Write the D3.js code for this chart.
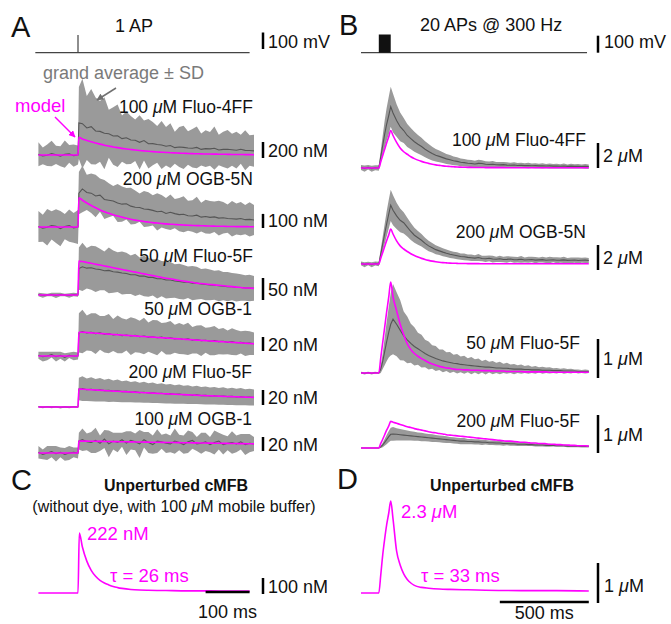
<!DOCTYPE html>
<html>
<head>
<meta charset="utf-8">
<script src="https://cdn.jsdelivr.net/npm/d3@7"></script>
<style>
body { margin: 0; background: #fff; }
text { font-family: "Liberation Sans", Arial, Helvetica, sans-serif; }
</style>
</head>
<body>
<div id="fig"></div>
<script>
var w = 671
var h = 624

var magenta = "#ff00ff"
var bandGray = "#9a9a9a"
var meanGray = "#555555"

// sample times (ms). A: 1 AP, B: 20 APs @ 300 Hz
var tA = d3.range(-90, 1, 10).concat([2], d3.range(10, 401, 10))
var tB = [-100, -80, -60, -40, -20, 0, 11, 22, 33, 44, 56, 67].concat(d3.range(80, 1181, 20))

// ---- panel A data (nM): grand average, SD, model ----
var a1Mean = [8,-12,-4,18,2,-16,10,14,-8,0, 400,
  392,338,355,300,295,272,265,238,240,205, 215,188,185,158,180,140,142,132,125,110,
  118,92,100,95,88,85,95,70,80,77, 85,62,70,71,65,60,72,58,56,52]
var a1Sd = [150,105,135,160,115,125,170,110,140,120, 450,
  560,400,470,420,380,450,300,360,390,290, 330,300,260,340,250,310,270,230,300,240,
  280,200,250,270,210,240,260,200,230,210, 270,190,220,240,200,230,180,250,190,200]
var a1Model = [0,0,0,0,0,0,0,0,0,0, 220,
  200,182,165,150,136,123,112,101,92,83, 76,69,62,56,51,46,42,38,35,32,
  29,26,24,21,19,17,16,14,13,12, 11,10,9,8,7,6,6,5,5,4]

var a2Mean = [4,-9,-2,11,6,-12,3,10,-6,0, 240,
  270,245,240,220,226,195,190,185,170,162, 165,148,140,138,128,125,118,108,112,96,
  104,95,88,90,80,78,84,70,74,68, 72,63,66,60,58,56,60,52,54,50]
var a2Sd = [110,95,130,100,120,125,90,115,105,120, 150,
  165,125,140,150,118,138,120,105,135,125, 112,130,118,100,128,122,108,132,115,110,
  126,104,118,128,106,112,130,102,120,116, 108,124,112,100,126,110,118,104,122,106]
var a2Model = [0,0,0,0,0,0,0,0,0,0, 207,
  190,170,152,136,121,108,97,87,78,70, 62,55,49,44,39,35,31,28,25,22,
  20,18,16,14,12,11,10,9,8,7, 6,5,5,4,4,3,3,3,2,2]

var a3Mean = [1,-1,0,1,-1,1,0,-1,1,0, 60,
  64,61,62,59,58,55,56,53,52,50, 49,46,46,43,43,40,40,37,37,34,
  34,32,31,29,29,27,27,25,24,23, 22,21,20,19,19,17,17,16,16,15]
var a3Sd = [4,5,3,4,6,4,3,5,4,4, 48,
  55,46,50,52,47,44,52,48,45,49, 47,44,48,42,46,44,41,45,40,42,
  41,38,40,39,36,39,37,34,36,35, 33,35,32,33,31,32,30,29,30,28]
var a3Model = [0,0,0,0,0,0,0,0,0,0, 77,
  76,74,72,70,68,66,64,62,60,58, 56,54,52,50,48,46,44,42,40,38,
  37,35,33,32,30,29,27,26,25,24, 23,22,21,20,19,18,17,16,16,15]

var a4Mean = [1,-1,0,2,-1,1,-2,1,0,0, 33,
  35,33,34,32,33,31,32,30,31,29, 30,28.5,29.5,27.5,28.5,27,27.5,26,27,25,
  26,24.5,25,23.5,24.5,22.5,23.5,22,22.5,21, 22,20.5,21,19.5,20.5,19,19.5,18,18.5,17.5]
var a4Sd = [5,7,6,4,7,5,6,4,6,5, 28,
  31,25,27,29,24,26,28,23,27,25, 22,27,24,23,26,21,24,25,20,23,
  24,20,22,21,23,19,20,22,18,20, 21,18,19,17,19,18,16,18,17,16]
var a4Model = [0,0,0,0,0,0,0,0,0,0, 34,
  34,33.5,33,32.6,32.2,31.7,31.3,30.8,30.4,30, 29.5,29.1,28.7,28.2,27.8,27.4,27,26.5,26.1,25.7,
  25.3,24.8,24.4,24,23.6,23.2,22.7,22.3,21.9,21.5, 21.1,20.7,20.3,19.9,19.5,19.1,18.7,18.3,17.9,17.5]

var a5Mean = [0.3,-0.3,0.4,-0.2,0.3,-0.4,0.2,-0.3,0.3,0, 24,
  24.5,23,23.6,22.4,23,21.8,22.2,21.2,21.6,20.5, 20.8,19.8,20.2,19.2,19.6,18.6,19,18,18.4,17.4,
  17.8,16.8,17.2,16.3,16.6,15.7,16.1,15.2,15.5,14.7, 15,14.3,14.6,13.8,14.2,13.4,13.8,13,13.3,12.7]
var a5Sd = [1,1.5,1,1.5,1,1.5,1,1.5,1,1, 15,
  16.5,15,16,15,15.8,14.6,15.4,14.3,15,14, 14.6,13.6,14.2,13.3,14,13,13.7,12.8,13.4,12.6,
  13,12.3,12.8,12,12.5,11.8,12.2,11.6,12,11.4, 11.8,11.2,11.6,11,11.5,10.9,11.4,10.8,11.2,10.7]
var a5Model = [0,0,0,0,0,0,0,0,0,0, 24,
  23.7,23.3,23,22.6,22.3,21.9,21.6,21.2,20.9,20.6, 20.3,20,19.7,19.4,19.1,18.8,18.5,18.2,17.9,17.6,
  17.3,17,16.7,16.5,16.2,15.9,15.7,15.4,15.2,14.9, 14.7,14.5,14.2,14,13.8,13.6,13.4,13.2,13,12.8]

var a6Mean = [1,-2,0,2,-1,1,-2,0,1,0, 17,
  19,16,15,18,14,20,13,17,15,19, 14,18,16,13,19,15,12,17,16,14,
  13,17,15,12,16,18,13,14,16,12, 15,17,12,14,15,13,16,12,14,13]
var a6Sd = [9,7,10,8,11,7,9,10,7,8, 12,
  16,12,15,18,11,13,19,12,14,10, 17,13,12,20,11,15,13,17,10,14,
  12,18,11,13,16,12,10,15,13,11, 17,12,14,10,16,12,11,15,13,10]
var a6Model = [0,0,0,0,0,0,0,0,0,0, 17,
  17,16.9,16.8,16.7,16.6,16.5,16.4,16.3,16.2,16.1, 16,15.9,15.8,15.7,15.6,15.5,15.4,15.3,15.2,15.1,
  15,14.9,14.8,14.7,14.6,14.5,14.4,14.3,14.2,14.1, 14,13.9,13.8,13.7,13.6,13.5,13.4,13.3,13.2,13.1]

// ---- panel B data (uM) ----
var b1Mean = [0.05,-0.04,0.06,-0.05,0.03,0, 0.9,1.8,2.7,3.5,4.2,4.9,
  4.4,3.8,3.3,3.0,2.6,2.35,2.1,1.9,1.72,1.5, 1.32,1.16,1.02,0.93,0.83,0.73,0.66,0.58,0.53,0.46,
  0.43,0.38,0.36,0.32,0.37,0.36,0.3,0.28,0.3,0.26, 0.25,0.27,0.23,0.22,0.24,0.2,0.21,0.19,0.2,0.18,
  0.19,0.17,0.18,0.16,0.17,0.15,0.16,0.14,0.16,0.13, 0.15,0.13,0.14,0.12,0.13,0.12]
var b1Sd = [0.2,0.25,0.18,0.24,0.2,0.22, 0.5,0.8,1.1,1.3,1.5,1.6,
  1.55,1.3,1.15,1.0,0.92,0.85,0.8,0.74,0.7,0.64, 0.6,0.55,0.5,0.47,0.43,0.4,0.38,0.35,0.33,0.31,
  0.3,0.28,0.29,0.26,0.3,0.27,0.25,0.24,0.26,0.22, 0.24,0.21,0.23,0.2,0.22,0.2,0.21,0.19,0.22,0.18,
  0.2,0.18,0.21,0.17,0.2,0.18,0.19,0.17,0.2,0.16, 0.19,0.17,0.18,0.16,0.19,0.17]
var b1Model = [0,0,0,0,0,0, 0.5,1.0,1.5,2.0,2.5,3.0,
  2.6,2.05,1.6,1.3,1.1,0.9,0.75,0.63,0.53,0.44, 0.37,0.3,0.25,0.21,0.17,0.14,0.12,0.1,0.08,0.07,
  0.06,0.05,0.05,0.04,0.04,0.04,0.03,0.03,0.03,0.03, 0.03,0.03,0.02,0.02,0.02,0.02,0.02,0.02,0.02,0.02,
  0.02,0.02,0.02,0.02,0.02,0.02,0.02,0.02,0.02,0.02, 0.02,0.02,0.02,0.02,0.02,0.02]

var b2Mean = [0.06,-0.05,0.04,-0.06,0.05,0, 0.8,1.6,2.4,3.2,4.0,4.7,
  4.3,3.85,3.5,3.3,2.95,2.6,2.3,2.1,1.9,1.65, 1.45,1.3,1.15,1.05,0.95,0.86,0.78,0.72,0.66,0.6,
  0.58,0.53,0.5,0.47,0.52,0.44,0.42,0.46,0.4,0.38, 0.42,0.36,0.37,0.4,0.34,0.35,0.38,0.32,0.34,0.36,
  0.31,0.33,0.35,0.3,0.32,0.34,0.3,0.31,0.33,0.29, 0.3,0.32,0.28,0.3,0.31,0.28]
var b2Sd = [0.15,0.2,0.14,0.2,0.16,0.18, 0.4,0.6,0.8,1.0,1.15,1.25,
  1.2,1.05,0.95,0.85,0.75,0.68,0.6,0.55,0.5,0.45, 0.42,0.38,0.36,0.33,0.32,0.3,0.29,0.27,0.28,0.25,
  0.27,0.24,0.26,0.23,0.28,0.22,0.25,0.23,0.27,0.21, 0.25,0.22,0.26,0.21,0.24,0.22,0.27,0.2,0.24,0.22,
  0.25,0.2,0.23,0.22,0.26,0.2,0.24,0.21,0.25,0.2, 0.23,0.21,0.24,0.2,0.22,0.2]
var b2Model = [0,0,0,0,0,0, 0.47,0.93,1.4,1.87,2.33,2.8,
  2.4,1.85,1.45,1.2,1.0,0.82,0.68,0.56,0.45,0.36, 0.29,0.23,0.18,0.14,0.11,0.09,0.07,0.06,0.05,0.04,
  0.04,0.03,0.03,0.03,0.03,0.02,0.02,0.02,0.02,0.02, 0.02,0.02,0.02,0.02,0.02,0.02,0.02,0.02,0.02,0.02,
  0.02,0.02,0.02,0.02,0.02,0.02,0.02,0.02,0.02,0.02, 0.02,0.02,0.02,0.02,0.02,0.02]

var b3Mean = [0.01,-0.01,0.01,-0.01,0.01,0, 0.1,0.3,0.55,0.8,1.05,1.25,
  1.38,1.25,1.1,0.95,0.85,0.76,0.68,0.62,0.56,0.5, 0.45,0.41,0.37,0.34,0.31,0.29,0.27,0.25,0.24,0.22,
  0.21,0.2,0.19,0.18,0.17,0.16,0.15,0.15,0.14,0.13, 0.13,0.12,0.12,0.11,0.1,0.1,0.1,0.09,0.09,0.08,
  0.08,0.08,0.07,0.07,0.07,0.06,0.06,0.06,0.05,0.05, 0.05,0.05,0.04,0.04,0.04,0.04]
var b3Sd = [0.02,0.03,0.02,0.03,0.02,0.02, 0.1,0.2,0.35,0.5,0.65,0.8,
  0.9,0.82,0.77,0.63,0.6,0.5,0.49,0.41,0.42,0.35, 0.36,0.3,0.32,0.26,0.29,0.24,0.27,0.22,0.25,0.2,
  0.23,0.18,0.22,0.17,0.2,0.15,0.19,0.14,0.17,0.13, 0.16,0.12,0.14,0.11,0.13,0.1,0.12,0.09,0.11,0.08,
  0.1,0.07,0.09,0.07,0.08,0.06,0.07,0.05,0.07,0.05, 0.06,0.04,0.05,0.04,0.05,0.04]
var b3Model = [0,0,0,0,0,0, 0.39,0.78,1.17,1.56,1.95,2.33,
  1.95,1.6,1.25,0.98,0.75,0.6,0.5,0.43,0.37,0.32, 0.27,0.23,0.2,0.17,0.15,0.13,0.12,0.1,0.09,0.09,
  0.08,0.08,0.07,0.07,0.07,0.06,0.06,0.06,0.05,0.05, 0.05,0.05,0.04,0.04,0.04,0.04,0.04,0.03,0.03,0.03,
  0.03,0.03,0.03,0.03,0.02,0.02,0.02,0.02,0.02,0.02, 0.02,0.02,0.02,0.02,0.02,0.02]

var b4Mean = [0,0,0,0,0,0, 0.03,0.08,0.15,0.22,0.3,0.36,
  0.37,0.36,0.35,0.34,0.33,0.32,0.31,0.3,0.29,0.28, 0.27,0.26,0.25,0.24,0.23,0.22,0.21,0.2,0.19,0.18,
  0.18,0.17,0.17,0.16,0.16,0.15,0.15,0.14,0.14,0.13, 0.13,0.12,0.12,0.11,0.11,0.1,0.1,0.1,0.09,0.09,
  0.08,0.08,0.08,0.07,0.07,0.07,0.06,0.06,0.06,0.05, 0.05,0.05,0.05,0.04,0.04,0.04]
var b4Sd = [0.01,0.015,0.01,0.015,0.01,0.01, 0.03,0.06,0.09,0.12,0.15,0.17,
  0.18,0.16,0.15,0.14,0.13,0.12,0.12,0.11,0.11,0.1, 0.1,0.1,0.09,0.09,0.09,0.09,0.08,0.08,0.08,0.08,
  0.08,0.07,0.07,0.07,0.07,0.07,0.06,0.06,0.06,0.06, 0.06,0.06,0.05,0.05,0.05,0.05,0.05,0.05,0.04,0.04,
  0.04,0.04,0.04,0.04,0.04,0.03,0.03,0.03,0.03,0.03, 0.03,0.03,0.03,0.03,0.03,0.03]
var b4Model = [0,0,0,0,0,0, 0.12,0.23,0.35,0.47,0.58,0.7,
  0.68,0.65,0.62,0.59,0.56,0.54,0.51,0.49,0.47,0.45, 0.43,0.41,0.4,0.38,0.37,0.35,0.34,0.33,0.32,0.31,
  0.3,0.29,0.28,0.27,0.26,0.25,0.24,0.23,0.22,0.21, 0.2,0.19,0.18,0.18,0.17,0.16,0.15,0.15,0.14,0.13,
  0.13,0.12,0.12,0.11,0.1,0.1,0.09,0.09,0.08,0.08, 0.07,0.07,0.06,0.06,0.06,0.05]

// ---- panels C / D: unperturbed model ----
var cTime = [-90, 0, 3, 10, 20, 30, 40, 50, 60, 70, 80, 90, 100, 120, 140, 160, 200, 250, 300, 350, 390]
var cModel = [0, 0, 222, 170, 118, 84, 62, 47, 37, 30, 24, 20, 17, 13, 11, 10, 9, 8, 8, 7, 7]
var dTime = [-100, 0, 11, 22, 33, 44, 56, 67, 80, 100, 120, 140, 160, 180, 200, 240, 280, 340, 400, 500, 600, 800, 1000, 1180]
var dModel = [0, 0, 0.45, 0.95, 1.35, 1.7, 2.0, 2.3, 1.85, 1.05, 0.7, 0.48, 0.34, 0.25, 0.19, 0.14, 0.12, 0.1, 0.09, 0.08, 0.07, 0.06, 0.06, 0.05]

// labels
var rowsA = [
  { name: "100 μM Fluo-4FF", mean: a1Mean, sd: a1Sd, model: a1Model, bar: 200, barText: "200 nM" },
  { name: "200 μM OGB-5N", mean: a2Mean, sd: a2Sd, model: a2Model, bar: 100, barText: "100 nM" },
  { name: "50 μM Fluo-5F", mean: a3Mean, sd: a3Sd, model: a3Model, bar: 50, barText: "50 nM" },
  { name: "50 μM OGB-1", mean: a4Mean, sd: a4Sd, model: a4Model, bar: 20, barText: "20 nM" },
  { name: "200 μM Fluo-5F", mean: a5Mean, sd: a5Sd, model: a5Model, bar: 20, barText: "20 nM" },
  { name: "100 μM OGB-1", mean: a6Mean, sd: a6Sd, model: a6Model, bar: 20, barText: "20 nM" }
]
var rowsB = [
  { name: "100 μM Fluo-4FF", mean: b1Mean, sd: b1Sd, model: b1Model, bar: 2, barText: "2 μM" },
  { name: "200 μM OGB-5N", mean: b2Mean, sd: b2Sd, model: b2Model, bar: 2, barText: "2 μM" },
  { name: "50 μM Fluo-5F", mean: b3Mean, sd: b3Sd, model: b3Model, bar: 1, barText: "1 μM" },
  { name: "200 μM Fluo-5F", mean: b4Mean, sd: b4Sd, model: b4Model, bar: 1, barText: "1 μM" }
]

// layout: baseline y, px per unit, scale bar shift, label position
var layA = [
  { base: 155, k: 0.08, shift: 3, lx: 253, ly: 113 },
  { base: 227, k: 0.141, shift: 1, lx: 253, ly: 185 },
  { base: 295, k: 0.44, shift: 5, lx: 253, ly: 262 },
  { base: 356, k: 0.7, shift: -5, lx: 252, ly: 315 },
  { base: 407, k: 0.75, shift: -2, lx: 252, ly: 378 },
  { base: 453, k: 0.7, shift: -2, lx: 252, ly: 425 }
]
var layB = [
  { base: 168, k: 12.5, shift: 0, lx: 586, ly: 146 },
  { base: 264, k: 12.5, shift: 6, lx: 586, ly: 238 },
  { base: 373, k: 39, shift: 5, lx: 580, ly: 349 },
  { base: 448, k: 38, shift: 5, lx: 580, ly: 427 }
]

var svg = d3.select("#fig").append("svg")
    .attr("width", w)
    .attr("height", h)

var xA = d3.scaleLinear().domain([-90, 400]).range([38.4, 254])
var xB = d3.scaleLinear().domain([-100, 1180]).range([361, 588.8])

// text with italic mu
function addText(x, y, str, opt) {
  opt = opt || {}
  var t = svg.append("text")
      .attr("x", x)
      .attr("y", y)
      .attr("text-anchor", opt.anchor || "start")
      .attr("font-size", opt.size || 17)
      .attr("font-weight", opt.weight || "normal")
      .attr("fill", opt.fill || "#111")
  str.split(/(μ)/).forEach(function (part) {
    if (!part) return
    var ts = t.append("tspan").text(part)
    if (part === "μ") ts.attr("font-style", "italic")
  })
  return t
}

function scaleBar(x, y1, y2) {
  svg.append("line")
      .attr("x1", x).attr("x2", x)
      .attr("y1", y1).attr("y2", y2)
      .attr("stroke", "#000")
      .attr("stroke-width", 2.5)
}

function drawRow(x, t, row, lay, barX) {
  var y = d3.scaleLinear().domain([0, row.bar]).range([lay.base, lay.base - row.bar * lay.k])
  var idx = d3.range(t.length)
  var band = d3.area()
      .x(function (i) { return x(t[i]) })
      .y0(function (i) { return y(row.mean[i] - row.sd[i]) })
      .y1(function (i) { return y(row.mean[i] + row.sd[i]) })
  svg.append("path").datum(idx)
      .attr("d", band)
      .attr("fill", bandGray)
  svg.append("path").datum(idx)
      .attr("d", d3.line().x(function (i) { return x(t[i]) }).y(function (i) { return y(row.mean[i]) }))
      .attr("fill", "none")
      .attr("stroke", meanGray)
      .attr("stroke-width", 1.1)
  svg.append("path").datum(idx)
      .attr("d", d3.line().curve(d3.curveMonotoneX).x(function (i) { return x(t[i]) }).y(function (i) { return y(row.model[i]) }))
      .attr("fill", "none")
      .attr("stroke", magenta)
      .attr("stroke-width", 1.6)

  // scale bar for this trace
  var yb0 = y(0) + lay.shift
  var yb1 = y(row.bar) + lay.shift
  scaleBar(barX, yb0, yb1)
  addText(barX + 5, (yb0 + yb1) / 2 + 6.5, row.barText, { size: 18 })
  addText(lay.lx, lay.ly, row.name, { anchor: "end", size: 17.5 })
}

rowsA.forEach(function (r, i) { drawRow(xA, tA, r, layA[i], 263) })
rowsB.forEach(function (r, i) { drawRow(xB, tB, r, layB[i], 598) })

// stimulus traces
svg.append("path")
    .attr("d", "M" + xA(-97) + ",52.7H" + xA(390) + "M" + xA(0) + ",52.7V35")
    .attr("fill", "none")
    .attr("stroke", "#444")
    .attr("stroke-width", 1.2)
svg.append("line")
    .attr("x1", xB(-100)).attr("x2", xB(1170))
    .attr("y1", 52.7).attr("y2", 52.7)
    .attr("stroke", "#444")
    .attr("stroke-width", 1.2)
svg.append("rect")
    .attr("x", xB(0)).attr("y", 34.5)
    .attr("width", xB(67) - xB(0)).attr("height", 18.2)
    .attr("fill", "#111")
scaleBar(263, 32.5, 49)
scaleBar(598, 35.7, 52.7)
addText(268, 48, "100 mV", { size: 18 })
addText(604, 48, "100 mV", { size: 18 })
addText(115, 32, "1 AP", { size: 18 })
addText(420, 31, "20 APs @ 300 Hz", { size: 18 })

// panel letters
addText(11, 37, "A", { size: 29 })
addText(339, 35, "B", { size: 29 })
addText(11, 490, "C", { size: 29 })
addText(337, 489, "D", { size: 29 })

// annotations in A
var defs = svg.append("defs")
function arrowMarker(id, color) {
  defs.append("marker")
      .attr("id", id)
      .attr("viewBox", "0 0 10 10")
      .attr("refX", 9).attr("refY", 5)
      .attr("markerWidth", 7).attr("markerHeight", 7)
      .attr("markerUnits", "userSpaceOnUse")
      .attr("orient", "auto")
    .append("path")
      .attr("d", "M0,0L10,5L0,10z")
      .attr("fill", color)
}
arrowMarker("arrGray", "#707070")
arrowMarker("arrMag", magenta)

addText(43, 79, "grand average ± SD", { size: 18, fill: "#7a7a7a" })
svg.append("line")
    .attr("x1", 116).attr("y1", 88).attr("x2", 97).attr("y2", 100)
    .attr("stroke", "#707070").attr("stroke-width", 1.5)
    .attr("marker-end", "url(#arrGray)")
addText(15, 112, "model", { size: 18.5, fill: magenta })
svg.append("line")
    .attr("x1", 55).attr("y1", 117).attr("x2", 75).attr("y2", 137)
    .attr("stroke", magenta).attr("stroke-width", 1.5)
    .attr("marker-end", "url(#arrMag)")

// ---- panel C ----
var yC = d3.scaleLinear().domain([0, 222]).range([593, 533])
svg.append("path").datum(d3.range(cTime.length))
    .attr("d", d3.line().curve(d3.curveMonotoneX).x(function (i) { return xA(cTime[i]) }).y(function (i) { return yC(cModel[i]) }))
    .attr("fill", "none")
    .attr("stroke", magenta)
    .attr("stroke-width", 1.6)
addText(176, 491, "Unperturbed cMFB", { anchor: "middle", size: 16, weight: "bold" })
addText(174, 512, "(without dye, with 100 μM mobile buffer)", { anchor: "middle", size: 16 })
addText(87, 540, "222 nM", { size: 18.5, fill: magenta })
addText(110, 582, "τ = 26 ms", { size: 18.5, fill: magenta })
scaleBar(263, 578, 594)
addText(268, 593, "100 nM", { size: 18 })
svg.append("line")
    .attr("x1", xA(290)).attr("x2", xA(390))
    .attr("y1", 592).attr("y2", 592)
    .attr("stroke", "#000").attr("stroke-width", 2.5)
addText((xA(290) + xA(390)) / 2, 618, "100 ms", { anchor: "middle", size: 18 })

// ---- panel D ----
var yD = d3.scaleLinear().domain([0, 1]).range([593, 553])
svg.append("path").datum(d3.range(dTime.length))
    .attr("d", d3.line().curve(d3.curveMonotoneX).x(function (i) { return xB(dTime[i]) }).y(function (i) { return yD(dModel[i]) }))
    .attr("fill", "none")
    .attr("stroke", magenta)
    .attr("stroke-width", 1.6)
addText(502, 491, "Unperturbed cMFB", { anchor: "middle", size: 16, weight: "bold" })
addText(401, 518, "2.3 μM", { size: 18.5, fill: magenta })
addText(421, 582, "τ = 33 ms", { size: 18.5, fill: magenta })
scaleBar(598, yD(0) + 10, yD(1) + 10)
addText(604, 592, "1 μM", { size: 18 })
svg.append("line")
    .attr("x1", xB(680)).attr("x2", xB(1180))
    .attr("y1", 602).attr("y2", 602)
    .attr("stroke", "#000").attr("stroke-width", 2.5)
addText((xB(680) + xB(1180)) / 2, 619, "500 ms", { anchor: "middle", size: 18 })
</script>
</body>
</html>
